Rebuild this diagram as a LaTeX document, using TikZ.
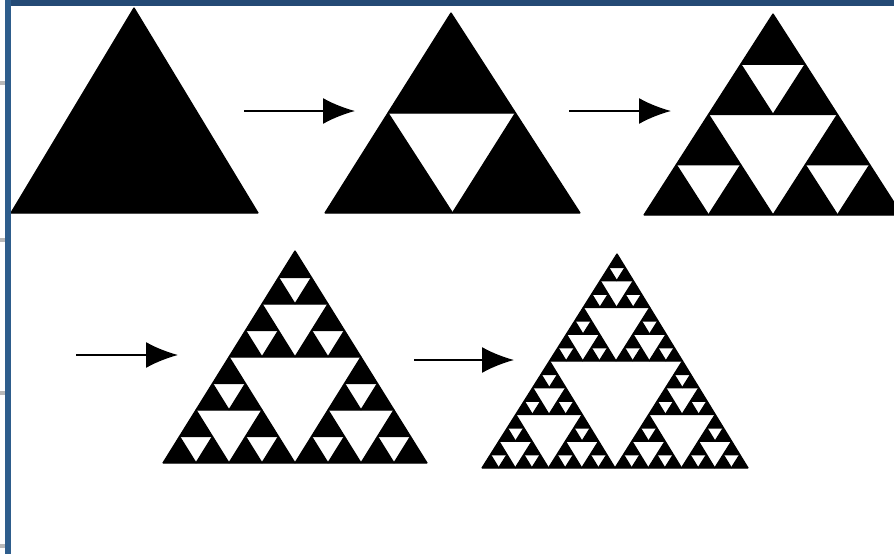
\documentclass[tikz,border=0pt]{standalone}
\usetikzlibrary{arrows.meta}
\definecolor{frametop}{RGB}{36,74,117}
\definecolor{frameleft}{RGB}{46,93,140}
\tikzset{
  tri/.style={fill=black, draw=black, line width=1.3pt, line join=bevel},
  arr/.style={line width=2pt, -{Latex[length=32pt,width=26pt]}},
}
\newcommand\sierp[7]{%
 \ifnum#1=0\relax
   \filldraw[tri] (#2,#3)--(#4,#5)--(#6,#7)--cycle;
 \else
   \begingroup
   \pgfmathtruncatemacro\sLev{#1-1}%
   \pgfmathsetmacro\sABx{(#2+#4)/2}%
   \pgfmathsetmacro\sABy{(#3+#5)/2}%
   \pgfmathsetmacro\sACx{(#2+#6)/2}%
   \pgfmathsetmacro\sACy{(#3+#7)/2}%
   \pgfmathsetmacro\sBCx{(#4+#6)/2}%
   \pgfmathsetmacro\sBCy{(#5+#7)/2}%
   \edef\sNext{\noexpand\sierp{\sLev}{#2}{#3}{\sABx}{\sABy}{\sACx}{\sACy}%
     \noexpand\sierp{\sLev}{\sABx}{\sABy}{#4}{#5}{\sBCx}{\sBCy}%
     \noexpand\sierp{\sLev}{\sACx}{\sACy}{\sBCx}{\sBCy}{#6}{#7}}%
   \sNext
   \endgroup
 \fi}
\begin{document}
\begin{tikzpicture}[x=1pt,y=-1pt]
\useasboundingbox (0,0) rectangle (894,554);
\fill[white] (0,0) rectangle (894,554);
% triangles
\sierp{0}{134}{8}{11}{213}{258}{213}
\sierp{1}{451}{13}{325}{213}{580}{213}
\sierp{2}{773}{14}{644}{215}{902}{215}
\sierp{3}{295}{251}{163}{463}{427}{463}
\sierp{4}{617}{254}{482}{468}{748}{468}
% frame
\fill[frametop] (5,0) rectangle (894,6);
\fill[frameleft] (5,0) rectangle (11,554);
\foreach \yy in {81,238,391,544} \fill[gray!55] (0,\yy) rectangle (5,\yy+4);
% arrows
\coordinate (a1s) at (244,111); \coordinate (a1e) at (355,111);
\coordinate (a2s) at (569,111); \coordinate (a2e) at (671,111);
\coordinate (a3s) at (76,355);  \coordinate (a3e) at (178,355);
\coordinate (a4s) at (414,360); \coordinate (a4e) at (514,360);
\draw[arr] (a1s) -- (a1e);
\draw[arr] (a2s) -- (a2e);
\draw[arr] (a3s) -- (a3e);
\draw[arr] (a4s) -- (a4e);
\end{tikzpicture}
\end{document}
